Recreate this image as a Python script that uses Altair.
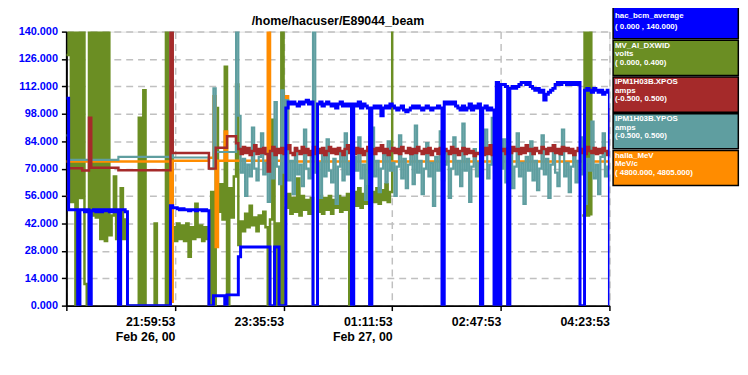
import altair as alt
import pandas as pd

# Samples every 2 minutes from 20:23:53 (Feb 26) to 04:23:53 (Feb 27); values in axis units (0-140)
MINUTES_PER_SAMPLE = 2

series_names = ["hac_bcm_average", "MV_Al_DXWID", "IPM1H03B.XPOS", "IPM1H03B.YPOS", "halla_MeV"]
series_units = ["", "volts", "amps", "amps", "MeV/c"]
series_ranges = ["( 0.000 , 140.000)", "( 0.000, 0.400)", "(-0.500, 0.500)",
                 "(-0.500, 0.500)", "( 4800.000, 4805.000)"]
series_colors = ["#0000FF", "#6B8E23", "#A52A2A", "#5F9EA0", "#FF8C00"]

tick_minutes = [0, 96, 192, 288, 384, 480]
tick_times = ["", "21:59:53", "23:35:53", "01:11:53", "02:47:53", "04:23:53"]
tick_dates = ["", "Feb 26, 00", "", "Feb 27, 00", "", ""]
y_ticks = [0, 14, 28, 42, 56, 70, 84, 98, 112, 126, 140]

blue_values = [
    106, 49, 49, 49, 49, 0, 49, 49, 48, 49,
    0, 48.5, 49, 48, 49, 48, 49, 48.5, 49, 48,
    49, 48, 49, 0, 49, 49, 48, 0, 0, 0,
    0, 0, 0, 0, 0, 0, 0, 0, 0, 0,
    0, 0, 0, 0, 0, 0, 51, 50, 50, 49.5,
    49, 49.5, 49, 49, 48.5, 49, 49, 48.5, 49, 49,
    48.5, 49, 48.5, 0, 0, 5, 5, 5, 5, 5,
    0, 5.5, 5.5, 5.5, 5.5, 5.5, 25, 30, 30, 30,
    30, 30, 30, 30, 30, 30, 30, 30, 30, 30,
    0, 0, 30, 30, 0, 0, 0, 101, 104, 103,
    104, 103, 102, 104, 103, 104, 105, 103, 104, 0,
    0, 103, 104, 102, 103, 104, 103, 102, 103, 101,
    103, 104, 102, 103, 102, 103, 0, 103, 102, 104,
    101, 103, 102, 101, 0, 101, 102, 101, 102, 97,
    101, 102, 101, 103, 102, 101, 100, 101, 102, 100,
    99, 100, 101, 102, 101, 102, 101, 100, 101, 102,
    101, 100, 101, 101, 102, 101, 0, 104, 103, 104,
    103, 104, 102, 101, 100, 102, 100, 101, 103, 100,
    102, 101, 103, 0, 101, 102, 100, 101, 100, 0,
    114, 0, 113, 113, 112, 0, 111, 112, 111, 112,
    113, 114, 114, 113, 114, 112, 111, 110, 111, 109,
    110, 105, 108, 109, 110, 111, 113, 114, 113, 114,
    114, 113, 114, 113, 114, 113, 114, 0, 0, 110,
    111, 110, 109, 111, 110, 109, 110, 108, 109, 110,
    0,
]

green_values = [
    128, 150, 53, 150, 0, 150, 55, 150, 11, 0,
    150, 46, 150, 45, 150, 34, 150, 33, 150, 36,
    46, 66, 34, 45, 60, 34, 44, 0, 0, 0,
    0, 0, 96, 0, 110, 0, 0, 0, 0, 42,
    0, 0, 0, 0, 150, 0, 112, 40, 33, 42,
    34, 41, 33, 42, 25, 40, 34, 52, 35, 41,
    33, 40, 34, 0, 58, 0, 101, 48, 62, 44,
    122, 0, 60, 45, 66, 113, 31, 43, 38, 47,
    40, 51, 41, 45, 38, 46, 42, 48, 40, 0,
    44, 95, 0, 42, 0, 150, 0, 50, 57, 47,
    55, 48, 65, 46, 56, 49, 54, 47, 55, 0,
    0, 48, 56, 47, 55, 49, 56, 47, 54, 50,
    56, 48, 55, 49, 57, 0, 50, 58, 51, 60,
    50, 57, 52, 61, 51, 58, 53, 60, 52, 59,
    54, 62, 53, 58, 150,
] + [None] * 83 + [46, 150, 46, 150, 46] + [None] * 8

red_noise = [
    80, 77.5, 81, 78, 80.5, 77, 79, 82, 77.5, 80,
    78, 80.5, 77.5, 68.5, 79, 81, 77, 80, 78, 80.5,
    77.5, 80, 82, 78, 77, 80.5, 79, 77.5, 81, 78,
    80, 77, 79, 81, 77.5, 80, 78, 80.5, 77, 79,
    81, 78, 80, 77.5, 80.5, 79, 77, 80, 82, 78,
    79, 77.5, 80.5, 78, 80, 77, 79, 81, 78, 80,
    77.5, 80.5, 79, 82, 78, 80, 77, 79, 80.5, 78,
    80, 77.5, 81, 79, 78, 80.5, 77.5, 80, 78, 81,
    79, 77.5, 80, 78, 80.5, 77, 79, 80, 77.5, 80.5,
    78, 80, 79, 77.5, 81, 78, 80, 77, 79, 80.5,
    77.5, 80, 78, 79, 76.5, 78, 77.5, 81, 77, 80.5,
    77.5, 82, 77, 80, 78, 81, 79, 80, 77.5, 80.5,
    78, 81, 79, 80, 77.5, 80.5, 78, 82, 79, 80,
    77.5, 80.5, 79, 78, 81, 80, 77.5, 80.5, 79, 82,
    78, 80, 77.5, 81, 79, 80.5, 78, 80, 77, 79,
    80.5, 78, 80, 77.5, 81, 79, 78, 80.5, 77.5, 80,
    78, 80.5, 79, 77, 101,
]
red_values = ([56] + [70.2] * 6 + [69] * 3 + [96] + [70.5] * 12 + [69.2] * 23 + [140]
              + [78] * 16 + [70] * 3 + [80.7] * 5 + [86.5] * 4 + [83] + red_noise)

steel_noise = [
    97, 68, 75, 56, 72, 66, 91, 70, 64, 76,
    88, 67, 73, 53, 78, 65, 104, 71, 62, 110,
    68, 105, 64, 74, 57, 80, 67, 72, 61, 90,
    70, 65, 76, 140, 68, 73, 55, 77, 66, 85,
    69, 63, 75, 52, 71, 78, 64, 88, 67, 73,
    60, 76, 69, 86, 65, 72, 54, 79, 68, 91,
    66, 74, 58, 70, 77, 63, 84, 69, 73, 56,
    71, 87, 65, 75, 60, 72, 78, 62, 92, 68,
    74, 57, 70, 83, 66, 73, 51, 76, 69, 89,
    64, 72, 78, 55, 70, 86, 67, 74, 61, 93,
    69, 75, 53, 71, 80, 66, 73, 58, 77, 90,
    65, 72, 96, 68, 57, 75, 70, 85, 63, 74,
    79, 60, 71, 88, 66, 73, 52, 76, 69, 84,
    64, 74, 59, 70, 87, 67, 75, 55, 72, 82,
    68, 61, 77, 90, 66, 73, 58, 71, 79, 63,
    74, 86, 67, 52, 75, 69, 94, 65, 72, 57,
    76, 88, 66, 71, 70,
]
steel_values = ([87] + [74.5] * 22 + [76] * 23 + [140] + [75.7] * 16 + [70] * 2 + [111]
                + [78.5] * 9 + [140] + steel_noise)

orange_values = ([73.6] * 46 + [2] + [74] * 16 + [75.5] * 2 + [107, 30] + [74] * 3 + [89]
                 + [74] * 18 + [140] + [74] * 7 + [107] + [73.6] * 36 + [86] + [73.6] * 55
                 + [91] + [73.6] * 49 + [69])


def to_frame(values):
    rows, seg, gap = [], 0, False
    for i, v in enumerate(values):
        if v is None:
            gap = True
            continue
        if gap:
            seg += 1
            gap = False
        rows.append({"minute": i * MINUTES_PER_SAMPLE, "value": v, "seg": seg})
    return pd.DataFrame(rows)


label_expr = "''"
for m, t, d in zip(tick_minutes, tick_times, tick_dates):
    label_expr = f"datum.value == {m} ? ['{t}', '{d}'] : ({label_expr})"

FONT = "Liberation Sans"
x_scale = alt.Scale(domain=[0, 480], nice=False, zero=False)
y_scale = alt.Scale(domain=[0, 140], nice=False)
x_axis = alt.Axis(values=tick_minutes, labelExpr=label_expr, title=None, grid=True,
                  gridDash=[7, 5], gridColor="#C0C0C0", gridWidth=1.5,
                  domainColor="black", domainWidth=2, tickColor="black", tickSize=5,
                  tickWidth=1.5, labelAlign="right", labelBaseline="top", labelPadding=5,
                  labelFont=FONT, labelFontSize=12.5, labelFontWeight="bold",
                  labelColor="black", labelLineHeight=15, labelFlush=False,
                  labelOverlap=False)
y_axis = alt.Axis(values=y_ticks, format=".3f", title=None, grid=True,
                  gridDash=[7, 5], gridColor="#C0C0C0", gridWidth=1.5,
                  domainColor="black", domainWidth=2, tickColor="black", tickSize=5,
                  tickWidth=1.5, labelFont=FONT, labelFontSize=11, labelFontWeight="bold",
                  labelColor="#0000FF", labelPadding=4, labelFlush=False,
                  labelOverlap=False)


def line_layer(values, color, width):
    return alt.Chart(to_frame(values)).mark_line(
        interpolate="step-after", color=color, strokeWidth=width, clip=True
    ).encode(
        x=alt.X("minute:Q", scale=x_scale, axis=x_axis),
        y=alt.Y("value:Q", scale=y_scale, axis=y_axis),
        detail="seg:N",
    )


data_layer = alt.layer(
    line_layer(green_values, series_colors[1], 2.5),
    line_layer(orange_values, series_colors[4], 2.5),
    line_layer(steel_values, series_colors[3], 2.2),
    line_layer(red_values, series_colors[2], 2.5),
    line_layer(blue_values, series_colors[0], 3),
)

# Legend boxes at the right
leg_df = pd.DataFrame({"name": series_names, "unit": series_units, "rng": series_ranges,
                       "color": series_colors, "slot": list(range(len(series_names)))})
lx = alt.Scale(domain=[0, 1], range=[552.7, 679.3])
ly = alt.Scale(domain=[0, 5], range=[-28.3, 157.2])
leg_base = alt.Chart(leg_df).transform_calculate(
    x0="0", x1="1", tx="0.015",
    ytop="datum.slot", ybot="datum.slot + 0.957",
    y1="datum.unit == '' ? datum.slot + 0.40 : datum.slot + 0.197",
    y2t="datum.slot + 0.431",
    y3="datum.unit == '' ? datum.slot + 0.68 : datum.slot + 0.666",
)
leg_rect = leg_base.mark_rect(stroke="black", strokeWidth=1.5).encode(
    x=alt.X("x0:Q", scale=lx, axis=None), x2="x1:Q",
    y=alt.Y("ytop:Q", scale=ly, axis=None), y2="ybot:Q",
    fill=alt.Fill("color:N", scale=None),
)
text_style = dict(align="left", baseline="alphabetic", color="white", font=FONT,
                  fontWeight="bold", fontSize=8)
leg_t1 = leg_base.mark_text(**text_style).encode(
    x=alt.X("tx:Q", scale=lx, axis=None), y=alt.Y("y1:Q", scale=ly, axis=None), text="name:N")
leg_t2 = leg_base.mark_text(**text_style).encode(
    x=alt.X("tx:Q", scale=lx, axis=None), y=alt.Y("y2t:Q", scale=ly, axis=None), text="unit:N")
leg_t3 = leg_base.mark_text(**text_style).encode(
    x=alt.X("tx:Q", scale=lx, axis=None), y=alt.Y("y3:Q", scale=ly, axis=None), text="rng:N")
legend_layer = alt.layer(leg_rect, leg_t1, leg_t2, leg_t3)

chart = alt.layer(data_layer, legend_layer).resolve_scale(
    x="independent", y="independent"
).properties(
    width=549, height=277,
    title=alt.TitleParams("/home/hacuser/E89044_beam", font=FONT, fontSize=12.5,
                          fontWeight="bold", color="black", anchor="middle", offset=5,
                          dy=30, frame="group"),
    autosize=alt.AutoSizeParams(type="none"),
    padding={"left": 59, "top": 22, "right": 132, "bottom": 45},
).configure_view(stroke=None).configure(background="white")

chart.save("out.html", embed_options={"renderer": "svg", "actions": False})
